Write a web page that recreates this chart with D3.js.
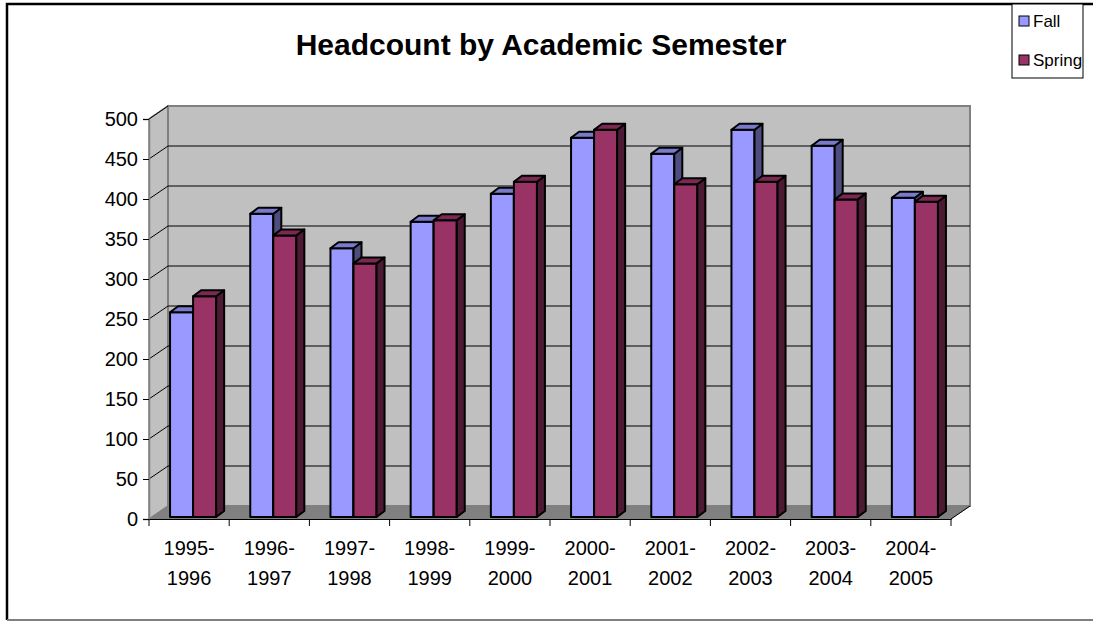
<!DOCTYPE html>
<html lang="en">
<head>
  <meta charset="UTF-8">
  <title>Headcount by Academic Semester</title>
  <script src="https://d3js.org/d3.v7.min.js"></script>
  <style>
    body { margin: 0; background: #fff; font-family: Arial, "Liberation Sans", sans-serif; }
    svg { display: block; }
  </style>
</head>
<body>
  <svg id="chart" width="1093" height="621"></svg>
  <script>
    // data
    const years = ["1995-1996", "1996-1997", "1997-1998", "1998-1999", "1999-2000",
                   "2000-2001", "2001-2002", "2002-2003", "2003-2004", "2004-2005"];
    const fall   = [256, 379, 336, 369, 404, 474, 454, 484, 464, 399];
    const spring = [276, 352, 317, 371, 419, 484, 416, 419, 397, 394];
    const yTicks = [0, 50, 100, 150, 200, 250, 300, 350, 400, 450, 500];
    const seriesNames = ["Fall", "Spring"];

    const svg = d3.select("#chart");
    const font = "Arial, 'Liberation Sans', sans-serif";

    // outer border
    svg.append("path")
      .attr("d", "M7,620 L7,4 L1093,4")
      .attr("fill", "none").attr("stroke", "#000").attr("stroke-width", 2.5);
    svg.append("line")
      .attr("x1", 7).attr("x2", 1093).attr("y1", 620).attr("y2", 620)
      .attr("stroke", "#808080").attr("stroke-width", 2);

    const x = d3.scaleBand().domain(years).range([149, 951]);
    const y = d3.scaleLinear().domain([0, 500]).range([519, 119]);
    const dx = 19, dy = -13; // depth of the plot box

    const xl = x.range()[0], xr = x.range()[1];
    const y0 = y(0), yTop = y(500);

    // side wall
    svg.append("polygon")
      .attr("points", [[xl, y0], [xl + dx, y0 + dy], [xl + dx, yTop + dy], [xl, yTop]].join(" "))
      .attr("fill", "#c0c0c0").attr("stroke", "#808080").attr("stroke-width", 1.5);
    // back wall
    svg.append("rect")
      .attr("x", xl + dx).attr("y", yTop + dy)
      .attr("width", xr - xl).attr("height", y0 - yTop)
      .attr("fill", "#c0c0c0").attr("stroke", "#808080").attr("stroke-width", 2);
    // floor
    svg.append("polygon")
      .attr("points", [[xl, y0], [xr, y0], [xr + dx, y0 + dy], [xl + dx, y0 + dy]].join(" "))
      .attr("fill", "#808080").attr("stroke", "#808080").attr("stroke-width", 1);

    // gridlines on back wall and side wall
    yTicks.filter(t => t > 0 && t < 500).forEach(t => {
      svg.append("line")
        .attr("x1", xl + dx).attr("x2", xr + dx)
        .attr("y1", y(t) + dy).attr("y2", y(t) + dy)
        .attr("stroke", "#000").attr("stroke-width", 1.2);
    });
    yTicks.filter(t => t > 0).forEach(t => {
      svg.append("line")
        .attr("x1", xl).attr("x2", xl + dx)
        .attr("y1", y(t)).attr("y2", y(t) + dy)
        .attr("stroke", "#000").attr("stroke-width", 1);
    });

    // floor right edge
    svg.append("line")
      .attr("x1", xr).attr("y1", y0).attr("x2", xr + dx).attr("y2", y0 + dy)
      .attr("stroke", "#000").attr("stroke-width", 1);

    // y axis
    const yAxis = svg.append("g")
      .attr("transform", `translate(${xl},0)`)
      .call(d3.axisLeft(y).tickValues(yTicks).tickSize(6).tickPadding(5));
    yAxis.select(".domain").attr("stroke", "#808080").attr("stroke-width", 1.5);
    yAxis.selectAll(".tick line").attr("stroke", "#000");
    yAxis.selectAll(".tick text")
      .attr("font-family", font).attr("font-size", 20).attr("fill", "#000");

    // x axis
    const xAxis = svg.append("g")
      .attr("transform", `translate(0,${y0})`)
      .call(d3.axisBottom(x).tickSize(0).tickFormat(""));
    xAxis.select(".domain").attr("stroke", "#000").attr("stroke-width", 1.2);
    const bounds = years.map(d => x(d)).concat([xr]);
    svg.selectAll(".xtick").data(bounds).enter().append("line")
      .attr("x1", d => d).attr("x2", d => d)
      .attr("y1", y0).attr("y2", y0 + 7)
      .attr("stroke", "#000").attr("stroke-width", 1);
    years.forEach(d => {
      const parts = d.split("-");
      const cx = x(d) + x.bandwidth() / 2;
      const t = svg.append("text")
        .attr("text-anchor", "middle")
        .attr("font-family", font).attr("font-size", 20).attr("fill", "#000");
      t.append("tspan").attr("x", cx).attr("y", 555).text(parts[0] + "-");
      t.append("tspan").attr("x", cx).attr("y", 585).text(parts[1]);
    });

    // bars
    const colors = {
      Fall:   { front: "#9999ff", side: "#4d4d80", top: "#7a7acc" },
      Spring: { front: "#993366", side: "#4d1a33", top: "#7a2952" }
    };
    const off = [4, -2];      // bar front plane relative to floor front
    const bd = [8, -6];       // bar depth
    const barX = d3.scaleBand().domain(seriesNames)
      .range([0, x.bandwidth()]).paddingOuter(0.74).paddingInner(0);

    years.forEach((yr, i) => {
      [fall[i], spring[i]].forEach((v, k) => {
        const name = seriesNames[k];
        const c = colors[name];
        const x1 = x(yr) + barX(name) + off[0];
        const x2 = x1 + barX.bandwidth();
        const yb = y(0) + off[1];
        const yt = y(v) + off[1];
        const g = svg.append("g")
          .attr("stroke", "#000").attr("stroke-width", 2).attr("stroke-linejoin", "round");
        g.append("rect")
          .attr("x", x1).attr("y", yt).attr("width", x2 - x1).attr("height", yb - yt)
          .attr("fill", c.front);
        g.append("polygon")
          .attr("points", [[x2, yb], [x2 + bd[0], yb + bd[1]], [x2 + bd[0], yt + bd[1]], [x2, yt]].join(" "))
          .attr("fill", c.side);
        g.append("polygon")
          .attr("points", [[x1, yt], [x2, yt], [x2 + bd[0], yt + bd[1]], [x1 + bd[0], yt + bd[1]]].join(" "))
          .attr("fill", c.top);
      });
    });

    // title
    svg.append("text")
      .attr("x", 541).attr("y", 55)
      .attr("text-anchor", "middle")
      .attr("font-family", font).attr("font-size", 30).attr("font-weight", "bold")
      .text("Headcount by Academic Semester");

    // legend
    const lg = svg.append("g");
    lg.append("rect")
      .attr("x", 1012).attr("y", 4).attr("width", 71).attr("height", 74)
      .attr("fill", "#fff").attr("stroke", "#000").attr("stroke-width", 1);
    seriesNames.forEach((name, i) => {
      const yy = 21 + i * 39;
      lg.append("rect")
        .attr("x", 1019).attr("y", yy - 5).attr("width", 10).attr("height", 10)
        .attr("fill", colors[name].front).attr("stroke", "#000").attr("stroke-width", 1);
      lg.append("text")
        .attr("x", 1033).attr("y", yy + 6)
        .attr("font-family", font).attr("font-size", 17)
        .text(name);
    });
  </script>
</body>
</html>
